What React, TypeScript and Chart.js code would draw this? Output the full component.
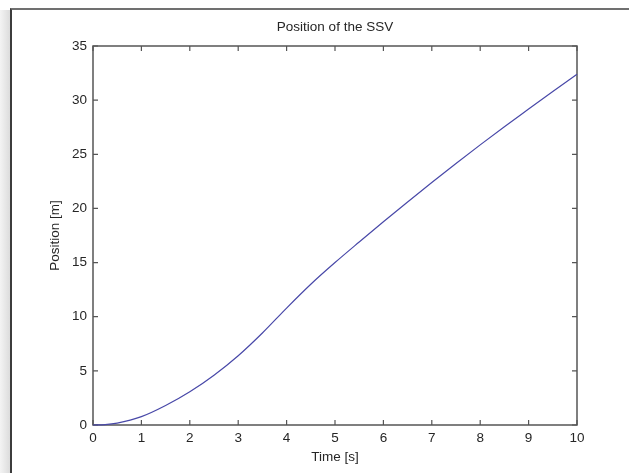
import React, { useEffect, useRef } from "react";
import { Chart, registerables } from "chart.js";

Chart.register(...registerables);

const titleText = "Position of the SSV";
const xTitle = "Time [s]";
const yTitle = "Position [m]";
const timeS = [0, 0.25, 0.5, 1, 1.5, 2, 2.5, 3, 3.5, 4, 4.5, 5, 5.5, 6, 6.5, 7, 7.5, 8, 8.5, 9, 9.5, 10];
const positionM = [0, 0.03, 0.17, 0.77, 1.8, 3.07, 4.6, 6.4, 8.5, 10.8, 13.0, 15.0, 16.9, 18.77, 20.6, 22.4, 24.15, 25.87, 27.55, 29.18, 30.8, 32.4];
const xMin = 0, xMax = 10, xStep = 1;
const yMin = 0, yMax = 35, yStep = 5;

const FONT = "'Liberation Sans', Arial, Helvetica, sans-serif";
const TEXT = "#262626";
const AXIS = "#555555";

const boxPlugin = {
  id: "matlabBox",
  beforeDatasetsDraw(chart: any) {
    const { ctx, chartArea: a, scales } = chart;
    ctx.save();
    ctx.strokeStyle = AXIS;
    ctx.lineWidth = 1.5;
    ctx.strokeRect(a.left, a.top, a.right - a.left, a.bottom - a.top);
    const tl = 5;
    ctx.beginPath();
    scales.x.ticks.forEach((t: any) => {
      const px = scales.x.getPixelForValue(t.value);
      ctx.moveTo(px, a.bottom);
      ctx.lineTo(px, a.bottom - tl);
      ctx.moveTo(px, a.top);
      ctx.lineTo(px, a.top + tl);
    });
    scales.y.ticks.forEach((t: any) => {
      const py = scales.y.getPixelForValue(t.value);
      ctx.moveTo(a.left, py);
      ctx.lineTo(a.left + tl, py);
      ctx.moveTo(a.right, py);
      ctx.lineTo(a.right - tl, py);
    });
    ctx.lineWidth = 1.2;
    ctx.stroke();
    ctx.restore();
  },
  afterDraw(chart: any) {
    const { ctx, chartArea: a } = chart;
    ctx.save();
    ctx.fillStyle = TEXT;
    ctx.font = `13.5px ${FONT}`;
    ctx.textAlign = "center";
    ctx.textBaseline = "middle";
    ctx.fillText(titleText, (a.left + a.right) / 2, a.top - 18.5);
    ctx.restore();
  },
};

export default function App() {
  const ref = useRef<HTMLCanvasElement | null>(null);
  useEffect(() => {
    if (!ref.current) return;
    const chart = new Chart(ref.current, {
      type: "line",
      data: {
        datasets: [
          {
            data: timeS.map((t, i) => ({ x: t, y: positionM[i] })),
            borderColor: "#4848a8",
            borderWidth: 1.2,
            pointRadius: 0,
            cubicInterpolationMode: "monotone",
            fill: false,
            clip: false as any,
          },
        ],
      },
      options: {
        responsive: false,
        animation: false,
        events: [],
        layout: { padding: { left: 0, top: 46, right: 52, bottom: 0 } },
        plugins: { legend: { display: false }, tooltip: { enabled: false }, title: { display: false } },
        scales: {
          x: {
            type: "linear",
            min: xMin,
            max: xMax,
            grid: { display: false, drawTicks: false },
            border: { display: false },
            ticks: {
              stepSize: xStep,
              padding: 5,
              color: TEXT,
              font: { family: FONT, size: 13.5 },
              maxRotation: 0,
              autoSkip: false,
            },
            title: {
              display: true,
              text: xTitle,
              color: TEXT,
              font: { family: FONT, size: 13.5 },
              padding: { top: 0, bottom: 8 },
            },
            afterFit(s: any) {
              s.height = 48;
            },
          },
          y: {
            type: "linear",
            min: yMin,
            max: yMax,
            grid: { display: false, drawTicks: false },
            border: { display: false },
            ticks: {
              stepSize: yStep,
              padding: 6,
              color: TEXT,
              font: { family: FONT, size: 13.5 },
              autoSkip: false,
            },
            title: {
              display: true,
              text: yTitle,
              color: TEXT,
              font: { family: FONT, size: 13.5 },
              padding: { top: 47, bottom: 0 },
            },
            afterFit(s: any) {
              s.width = 93;
            },
          },
        },
      },
      plugins: [boxPlugin],
    });
    return () => chart.destroy();
  }, []);

  return (
    <div style={{ position: "absolute", left: 0, top: 0, width: 629, height: 473, background: "#fff", overflow: "hidden" }}>
      <div style={{ position: "absolute", left: 0, top: 10, width: 10, height: 463, background: "linear-gradient(to right, #f4f4f4, #dcdcdc)" }} />
      <div style={{ position: "absolute", left: 10, top: 8, right: -4, bottom: -4, borderLeft: "2px solid #3c3c3c", borderTop: "2px solid #707070" }} />
      <canvas ref={ref} width={629} height={473} style={{ position: "absolute", left: 0, top: 0, display: "block" }} />
    </div>
  );
}
